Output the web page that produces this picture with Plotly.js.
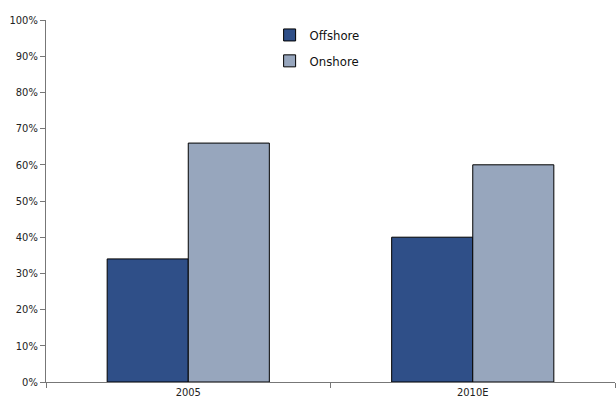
<!DOCTYPE html>
<html><head><meta charset="utf-8">
<script src="https://cdn.plot.ly/plotly-3.0.1.min.js"></script>
<style>html,body{margin:0;padding:0;background:#fff}#c{width:616px;height:405px}</style>
</head><body><div id="c"></div>
<script>
const categories = ['2005', '2010E'];
const offshore = [34, 40];
const onshore = [66, 60];
const yTicks = [0,10,20,30,40,50,60,70,80,90,100];
const yTickText = yTicks.map(v => v + '%');

const font = "'DejaVu Sans Condensed', 'Liberation Sans Narrow', sans-serif";
const traces = [
  {type:'bar', name:'Offshore', x:categories, y:offshore, legendgroup:'a',
   marker:{color:'#2F4F88', line:{color:'#000', width:1}}},
  {type:'bar', name:'Onshore', x:categories, y:onshore, legendgroup:'b',
   marker:{color:'#97A6BD', line:{color:'#000', width:1}}}
];
const layout = {
  width:616, height:405,
  margin:{l:46, r:1, t:20, b:23},
  paper_bgcolor:'#fff', plot_bgcolor:'#fff',
  barmode:'group', bargap:0.43, bargroupgap:0,
  font:{family:font, size:11, color:'#222'},
  showlegend:true,
  legend:{x:0.393, y:1.0, xanchor:'left', yanchor:'top', font:{size:13, color:'#111'},
          tracegroupgap:6, bgcolor:'rgba(0,0,0,0)', itemwidth:30},
  xaxis:{type:'category', showgrid:false, zeroline:false, showline:true, linecolor:'#777', linewidth:1,
         ticks:'outside', tickson:'boundaries', ticklen:5, tickcolor:'#777', tickfont:{size:11}},
  yaxis:{range:[0,100], tickmode:'array', tickvals:yTicks, ticktext:yTickText, showgrid:false, zeroline:false,
         showline:true, linecolor:'#777', linewidth:1, ticks:'outside', ticklen:5, tickcolor:'#777',
         tickfont:{size:11}}
};
Plotly.newPlot('c', traces, layout, {displayModeBar:false, staticPlot:true});
</script></body></html>
